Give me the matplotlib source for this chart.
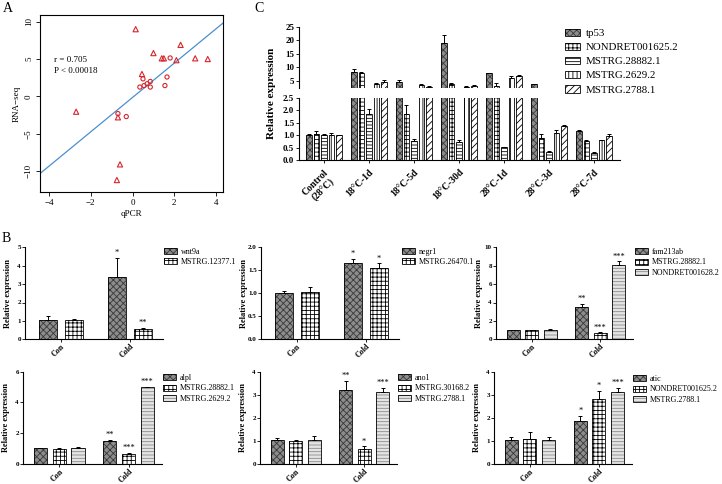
#!/usr/bin/env python3

import matplotlib
matplotlib.use('Agg')
import matplotlib.pyplot as plt
from matplotlib.patches import Patch
from matplotlib.ticker import FormatStrFormatter

plt.rcParams['font.family'] = ['Liberation Serif', 'DejaVu Serif']
plt.rcParams['hatch.linewidth'] = 0.6

FIG_W, FIG_H = 722, 484

# ---- Panel A: qPCR vs RNA-seq ----
a_tri_qpcr   = [0.15, 1.0, 2.3, 1.4, 1.5, 2.1, 3.0, 3.6, 0.45, -2.7, -0.7, -0.6, -0.75]
a_tri_rnaseq = [9.0, 5.8, 6.9, 5.1, 5.1, 4.85, 5.1, 5.0, 3.0, -2.05, -2.8, -9.1, -11.2]
a_circ_qpcr   = [1.8, 0.5, 1.65, 0.35, 0.55, 0.7, 0.85, 0.85, 1.55, -0.7, -0.3]
a_circ_rnaseq = [5.15, 2.35, 2.6, 1.25, 1.45, 1.7, 2.0, 1.25, 1.45, -2.3, -2.7]
a_fit_slope = 2.3
a_fit_intercept = -0.14
a_r = '0.705'
a_p = '0.00018'

# ---- Panel B: Con vs Cold ----
b_groups = ['Con', 'Cold']

wnt9a_mean, wnt9a_err, wnt9a_sig = [1.03, 3.37], [0.24, 1.06], ['', '*']
m12377_mean, m12377_err, m12377_sig = [1.03, 0.57], [0.08, 0.04], ['', '**']

negr1_mean, negr1_err, negr1_sig = [1.0, 1.66], [0.05, 0.09], ['', '*']
m26470_mean, m26470_err, m26470_sig = [1.02, 1.56], [0.12, 0.09], ['', '*']

fam213ab_mean, fam213ab_err, fam213ab_sig = [1.02, 3.49], [0.04, 0.36], ['', '**']
b3_m28882_mean, b3_m28882_err, b3_m28882_sig = [1.0, 0.69], [0.03, 0.05], ['', '***']
n1628_mean, n1628_err, n1628_sig = [1.02, 8.04], [0.05, 0.45], ['', '***']

alpl_mean, alpl_err, alpl_sig = [1.01, 1.48], [0.03, 0.08], ['', '**']
b4_m28882_mean, b4_m28882_err, b4_m28882_sig = [1.0, 0.68], [0.03, 0.03], ['', '***']
m2629_b_mean, m2629_b_err, m2629_b_sig = [1.05, 4.97], [0.06, 0.04], ['', '***']

ano1_mean, ano1_err, ano1_sig = [1.02, 3.21], [0.1, 0.39], ['', '**']
m30168_mean, m30168_err, m30168_sig = [1.0, 0.67], [0.02, 0.09], ['', '*']
b5_m2788_mean, b5_m2788_err, b5_m2788_sig = [1.05, 3.13], [0.14, 0.17], ['', '***']

atic_mean, atic_err, atic_sig = [1.02, 1.84], [0.13, 0.24], ['', '*']
b6_n1625_mean, b6_n1625_err, b6_n1625_sig = [1.08, 2.82], [0.29, 0.35], ['', '*']
b6_m2788_mean, b6_m2788_err, b6_m2788_sig = [1.04, 3.13], [0.13, 0.17], ['', '***']

# ---- Panel C: time course ----
c_groups = ['Control\n(28°C)', '18°C-1d', '18°C-5d', '18°C-30d', '28°C-1d', '28°C-3d', '28°C-7d']
c_genes = ['tp53', 'NONDRET001625.2', 'MSTRG.28882.1', 'MSTRG.2629.2', 'MSTRG.2788.1']
tp53_mean = [1.0, 8.5, 4.75, 19.1, 7.8, 3.8, 1.15]
tp53_err  = [0.03, 0.9, 0.6, 3.0, 0.2, 0.25, 0.07]
n1625_mean = [1.03, 7.9, 1.87, 4.0, 3.2, 0.88, 0.78]
n1625_err  = [0.12, 0.3, 0.33, 0.4, 1.0, 0.15, 0.04]
m28882_mean = [1.0, 1.86, 0.77, 0.72, 0.52, 0.33, 0.3]
m28882_err  = [0.05, 0.18, 0.06, 0.08, 0.02, 0.03, 0.02]
m2629_mean = [1.02, 3.9, 3.5, 2.9, 6.2, 1.1, 0.8]
m2629_err  = [0.05, 0.35, 0.3, 0.15, 0.5, 0.12, 0.02]
m2788_mean = [1.0, 4.5, 2.9, 3.15, 7.0, 1.38, 0.97]
m2788_err  = [0.02, 0.9, 0.2, 0.2, 0.25, 0.03, 0.08]

# fill styles: (face, hatch, hatch colour)
GRAY_X   = ('#8c8c8c', 'xxxxx', '#383838')
CHECKER  = ('#ffffff', '++++', '#000000')
LIGHT_H  = ('#e4e4e4', '-----', '#8a8a8a')
H_LINES  = ('#ffffff', '-----', '#000000')
V_LINES  = ('#ffffff', '||||', '#000000')
DIAGONAL = ('#ffffff', '/////', '#000000')

RED = '#d7262b'
BLUE = '#4a8fd0'


def px_axes(fig, left, top, right, bottom):
    '''
    Add an axes given its box in pixel coordinates (origin at top left).
    '''
    return fig.add_axes([left / FIG_W, 1 - bottom / FIG_H,
                         (right - left) / FIG_W, (bottom - top) / FIG_H])


def draw_bars(ax, x, means, errs, width, style):
    face, hatch, hcolor = style
    ax.bar(x, means, width, color=face, hatch=hatch, edgecolor=hcolor, linewidth=0)
    ax.bar(x, means, width, fill=False, edgecolor='black', linewidth=0.6)
    ax.errorbar(x, means, yerr=[[0] * len(errs), errs], fmt='none', ecolor='black',
                elinewidth=0.7, capsize=1.6, capthick=0.7)


def legend_handle(style):
    face, hatch, hcolor = style
    return (Patch(facecolor=face, hatch=hatch, edgecolor=hcolor, linewidth=0),
            Patch(fill=False, edgecolor='black', linewidth=0.6))


def plot_panel_a(fig):
    ax = px_axes(fig, 40, 15, 223, 192)
    ax.scatter(a_tri_qpcr, a_tri_rnaseq, marker='^', s=14, facecolors='none',
               edgecolors=RED, linewidths=0.8, zorder=3)
    ax.scatter(a_circ_qpcr, a_circ_rnaseq, marker='o', s=9, facecolors='none',
               edgecolors=RED, linewidths=0.8, zorder=3)
    ax.axline((0, a_fit_intercept), slope=a_fit_slope, color=BLUE, linewidth=0.9)

    ax.set_xlim(-4.43, 4.33)
    ax.set_ylim(-12.8, 10.9)
    ax.set_xticks([-4, -2, 0, 2, 4])
    ax.set_yticks([-10, -5, 0, 5, 10])
    ax.tick_params(labelsize=6.5, length=3, width=0.6, pad=2)
    plt.setp(ax.get_yticklabels(), rotation=90, va='center')
    for spine in ax.spines.values():
        spine.set_linewidth(0.8)

    ax.set_xlabel('qPCR', fontsize=6.5, labelpad=2)
    ax.set_ylabel('RNA\u2212seq', fontsize=6.5, labelpad=3)
    ax.text(-3.78, 4.9, f'r = {a_r}', fontsize=6.5, va='center')
    ax.text(-3.78, 3.45, f'P < {a_p}', fontsize=6.5, va='center')


def plot_b_panel(fig, box, names, means, errs, sigs, styles, yticks, yfmt, legend_px):
    ax = px_axes(fig, *box)
    n = len(names)
    width, step = (0.26, 0.37) if n == 2 else (0.19, 0.27)

    for i in range(n):
        offset = (i - (n - 1) / 2) * step
        x = [g + offset for g in range(len(b_groups))]
        draw_bars(ax, x, means[i], errs[i], width, styles[i])
        for xi, m, e, s in zip(x, means[i], errs[i], sigs[i]):
            if s:
                ax.annotate(s, (xi, m + e), xytext=(0, 0.5), textcoords='offset points',
                            ha='center', va='bottom', fontsize=6)

    ax.set_xlim(-0.52, 1.48)
    ax.set_ylim(yticks[0], yticks[-1])
    ax.set_yticks(yticks)
    ax.yaxis.set_major_formatter(FormatStrFormatter(yfmt))
    ax.set_xticks(range(len(b_groups)))
    ax.set_xticklabels(b_groups, rotation=45, ha='right', rotation_mode='anchor',
                       fontsize=5.8, fontweight='bold')
    ax.tick_params(axis='y', labelsize=5, length=2, width=0.6, pad=1)
    ax.tick_params(axis='x', length=2, width=0.6, pad=0.3)
    for lbl in ax.get_yticklabels():
        lbl.set_fontweight('bold')
    ax.spines['top'].set_visible(False)
    ax.spines['right'].set_visible(False)
    ax.spines['left'].set_linewidth(0.8)
    ax.spines['bottom'].set_linewidth(0.8)
    ax.set_ylabel('Relative expression', fontsize=6, fontweight='bold')
    ax.yaxis.set_label_coords(-13 / (box[2] - box[0]), 0.5)

    ax.legend([legend_handle(s) for s in styles], names, loc='upper left',
              bbox_to_anchor=(legend_px[0] / FIG_W, 1 - legend_px[1] / FIG_H),
              bbox_transform=fig.transFigure, frameon=False, fontsize=5.8,
              handlelength=1.6, handleheight=0.75, handletextpad=0.5,
              labelspacing=0.3, borderpad=0, borderaxespad=0)


def plot_panel_b(fig):
    top1, bot1 = 247.3, 339.3
    top2, bot2 = 371.5, 464.0

    plot_b_panel(fig, (25, top1, 163, bot1), ['wnt9a', 'MSTRG.12377.1'],
                 [wnt9a_mean, m12377_mean], [wnt9a_err, m12377_err],
                 [wnt9a_sig, m12377_sig], [GRAY_X, CHECKER],
                 [0, 1, 2, 3, 4, 5], '%d', (164, 247.5))
    plot_b_panel(fig, (261, top1, 399, bot1), ['negr1', 'MSTRG.26470.1'],
                 [negr1_mean, m26470_mean], [negr1_err, m26470_err],
                 [negr1_sig, m26470_sig], [GRAY_X, CHECKER],
                 [0, 0.5, 1.0, 1.5, 2.0], '%.1f', (402, 247.5))
    plot_b_panel(fig, (496, top1, 633, bot1),
                 ['fam213ab', 'MSTRG.28882.1', 'NONDRET001628.2'],
                 [fam213ab_mean, b3_m28882_mean, n1628_mean],
                 [fam213ab_err, b3_m28882_err, n1628_err],
                 [fam213ab_sig, b3_m28882_sig, n1628_sig], [GRAY_X, CHECKER, LIGHT_H],
                 [0, 2, 4, 6, 8, 10], '%d', (635, 248))

    plot_b_panel(fig, (23, top2, 162, bot2), ['alpl', 'MSTRG.28882.1', 'MSTRG.2629.2'],
                 [alpl_mean, b4_m28882_mean, m2629_b_mean],
                 [alpl_err, b4_m28882_err, m2629_b_err],
                 [alpl_sig, b4_m28882_sig, m2629_b_sig], [GRAY_X, CHECKER, LIGHT_H],
                 [0, 2, 4, 6], '%d', (163, 374))
    plot_b_panel(fig, (260, top2, 397, bot2), ['ano1', 'MSTRG.30168.2', 'MSTRG.2788.1'],
                 [ano1_mean, m30168_mean, b5_m2788_mean],
                 [ano1_err, m30168_err, b5_m2788_err],
                 [ano1_sig, m30168_sig, b5_m2788_sig], [GRAY_X, CHECKER, LIGHT_H],
                 [0, 1, 2, 3, 4], '%d', (398, 374))
    plot_b_panel(fig, (494, top2, 632, bot2), ['atic', 'NONDRET001625.2', 'MSTRG.2788.1'],
                 [atic_mean, b6_n1625_mean, b6_m2788_mean],
                 [atic_err, b6_n1625_err, b6_m2788_err],
                 [atic_sig, b6_n1625_sig, b6_m2788_sig], [GRAY_X, CHECKER, LIGHT_H],
                 [0, 1, 2, 3, 4], '%d', (633, 375))


def plot_panel_c(fig):
    # broken y axis: two stacked axes sharing the same x positions
    ax_up = px_axes(fig, 299.2, 27, 620.1, 88)
    ax_lo = px_axes(fig, 299.2, 98, 620.1, 160)

    means = [tp53_mean, n1625_mean, m28882_mean, m2629_mean, m2788_mean]
    errs = [tp53_err, n1625_err, m28882_err, m2629_err, m2788_err]
    styles = [GRAY_X, CHECKER, H_LINES, V_LINES, DIAGONAL]
    step = 1 / 6
    width = 0.13

    for ax in (ax_up, ax_lo):
        for i in range(len(c_genes)):
            x = [g + (i - 2) * step for g in range(len(c_groups))]
            draw_bars(ax, x, means[i], errs[i], width, styles[i])
        ax.set_xlim(-0.55, 6.58)
        ax.spines['top'].set_visible(False)
        ax.spines['right'].set_visible(False)
        ax.spines['left'].set_linewidth(0.8)
        ax.tick_params(axis='y', labelsize=6.5, length=2.5, width=0.6, pad=1)

    ax_up.set_ylim(2.4, 25)
    ax_up.set_yticks([5, 10, 15, 20, 25])
    ax_up.spines['bottom'].set_visible(False)
    ax_up.set_xticks([])

    ax_lo.set_ylim(0, 2.5)
    ax_lo.set_yticks([0, 0.5, 1.0, 1.5, 2.0, 2.5])
    ax_lo.yaxis.set_major_formatter(FormatStrFormatter('%.1f'))
    ax_lo.spines['bottom'].set_linewidth(0.8)
    ax_lo.set_xticks(range(len(c_groups)))
    ax_lo.set_xticklabels(c_groups, rotation=45, ha='right', rotation_mode='anchor',
                          fontsize=7, fontweight='bold', multialignment='center')
    ax_lo.tick_params(axis='x', length=2.5, width=0.6, pad=3)

    for ax in (ax_up, ax_lo):
        for lbl in ax.get_yticklabels():
            lbl.set_fontweight('bold')

    fig.text(272 / FIG_W, 1 - 93 / FIG_H, 'Relative expression', rotation=90,
             ha='center', va='center', fontsize=8, fontweight='bold')

    ax_up.legend([legend_handle(s) for s in styles], c_genes, loc='upper left',
                 bbox_to_anchor=(565 / FIG_W, 1 - 28.5 / FIG_H),
                 bbox_transform=fig.transFigure, frameon=False, fontsize=7.8,
                 handlelength=1.4, handleheight=0.7, handletextpad=0.5,
                 labelspacing=0.42, borderpad=0, borderaxespad=0)


def main():
    fig = plt.figure(figsize=(FIG_W / 100, FIG_H / 100), dpi=100)

    plot_panel_a(fig)
    plot_panel_b(fig)
    plot_panel_c(fig)

    fig.text(3 / FIG_W, 1 - 2 / FIG_H, 'A', fontsize=10, va='top', ha='left')
    fig.text(2 / FIG_W, 1 - 232 / FIG_H, 'B', fontsize=10, va='top', ha='left')
    fig.text(254 / FIG_W, 1 - 2 / FIG_H, 'C', fontsize=10, va='top', ha='left')

    fig.savefig('out.png', dpi=100)


if __name__ == '__main__':
    main()
